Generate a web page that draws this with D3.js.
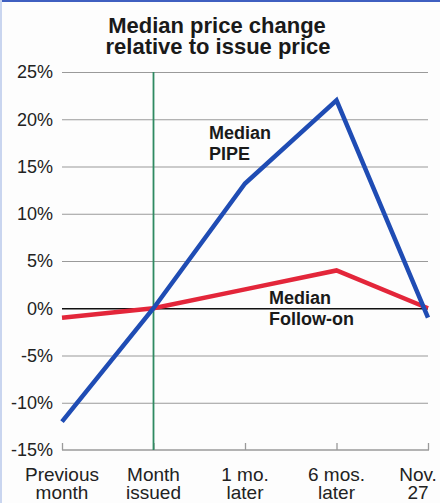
<!DOCTYPE html>
<html>
<head>
<meta charset="utf-8">
<script src="https://cdn.jsdelivr.net/npm/d3@7"></script>
<style>
  body { margin: 0; background: #fdfdfd; }
  svg { display: block; font-family: "Liberation Sans", Arial, sans-serif; }
</style>
</head>
<body>
<svg id="chart"></svg>
<script>
// categories and values
var categories = ["Previous month", "Month issued", "1 mo. later", "6 mos. later", "Nov. 27"];
var catLines = [["Previous", "month"], ["Month", "issued"], ["1 mo.", "later"], ["6 mos.", "later"], ["Nov.", "27"]];
var pipe = [-12, 0, 13.2, 22, -1];
var followOn = [-1, 0, 2, 4, 0];
var yTicks = [25, 20, 15, 10, 5, 0, -5, -10, -15];

var svgWidth = 440, svgHeight = 503;
var svg = d3.select("#chart")
  .attr("width", svgWidth)
  .attr("height", svgHeight);

// scan edges
svg.append("rect").attr("x", 0).attr("y", 0).attr("width", svgWidth).attr("height", 2).attr("fill", "#3f5fc0");
svg.append("rect").attr("x", 0).attr("y", 0).attr("width", 2).attr("height", svgHeight).attr("fill", "#c9d5ef");

var x = d3.scalePoint().domain(categories).range([62, 428]);
var y = d3.scaleLinear().domain([-15, 25]).range([450, 72]);

// title
var title = svg.append("text")
  .attr("text-anchor", "middle")
  .attr("font-weight", "bold")
  .attr("font-size", 22)
  .attr("fill", "#1a1a1a");
title.append("tspan").attr("x", 217).attr("y", 33).text("Median price change");
title.append("tspan").attr("x", 218).attr("y", 54).text("relative to issue price");

// gridlines + y labels
var yAxis = svg.append("g")
  .attr("transform", "translate(62,0)")
  .call(d3.axisLeft(y).tickValues(yTicks).tickSize(-366).tickPadding(9).tickFormat(function (d) { return d + "%"; }));
yAxis.select(".domain").remove();
yAxis.selectAll(".tick line")
  .attr("stroke", function (d) { return d === 0 ? "#111" : "#9a9a9a"; })
  .attr("stroke-width", function (d) { return d === 0 ? 1.3 : 1.2; })
  .style("display", function (d) { return d === -15 ? "none" : null; });
yAxis.selectAll(".tick text")
  .attr("font-size", 18)
  .attr("font-family", "Liberation Sans, Arial, sans-serif")
  .attr("fill", "#222");

// bottom axis
var xAxis = svg.append("g")
  .attr("transform", "translate(0," + y(-15) + ")")
  .call(d3.axisBottom(x).tickSize(-7).tickFormat(""));
xAxis.select(".domain").attr("stroke", "#9a9a9a").attr("stroke-width", 1.3).attr("d", "M62,0H429");
xAxis.selectAll(".tick line").attr("stroke", "#9a9a9a").attr("stroke-width", 1.3);

// x labels
catLines.forEach(function (lines, i) {
  var cx = x(categories[i]);
  if (i === catLines.length - 1) cx -= 10;
  var t = svg.append("text")
    .attr("text-anchor", "middle")
    .attr("font-size", 19)
    .attr("fill", "#222");
  t.append("tspan").attr("x", cx).attr("y", 481).text(lines[0]);
  t.append("tspan").attr("x", cx).attr("y", 499).text(lines[1]);
});

// issue month marker
svg.append("line")
  .attr("x1", x("Month issued")).attr("x2", x("Month issued"))
  .attr("y1", y(25)).attr("y2", y(-15))
  .attr("stroke", "#2f8a62")
  .attr("stroke-width", 1.8);

var line = d3.line()
  .x(function (d, i) { return x(categories[i]); })
  .y(function (d) { return y(d); });

svg.append("path")
  .datum(followOn)
  .attr("fill", "none")
  .attr("stroke", "#e3263a")
  .attr("stroke-width", 4.5)
  .attr("stroke-linejoin", "miter")
  .attr("d", line);

svg.append("path")
  .datum(pipe)
  .attr("fill", "none")
  .attr("stroke", "#1f4cb4")
  .attr("stroke-width", 4.5)
  .attr("stroke-linejoin", "miter")
  .attr("d", line);

// annotations
var a1 = svg.append("text").attr("font-weight", "bold").attr("font-size", 18).attr("fill", "#1a1a1a");
a1.append("tspan").attr("x", 209).attr("y", 139).text("Median");
a1.append("tspan").attr("x", 209).attr("y", 160).text("PIPE");

var a2 = svg.append("text").attr("font-weight", "bold").attr("font-size", 18).attr("fill", "#1a1a1a");
a2.append("tspan").attr("x", 269).attr("y", 304).text("Median");
a2.append("tspan").attr("x", 269).attr("y", 325).text("Follow-on");
</script>
</body>
</html>
